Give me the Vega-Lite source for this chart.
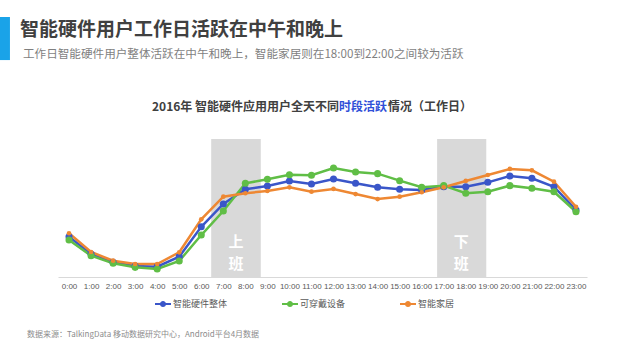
{
  "$schema": "https://vega.github.io/schema/vega-lite/v6.json",
  "width": 529,
  "height": 138,
  "autosize": {"type": "none"},
  "padding": {"left": 58, "top": 139, "right": 53, "bottom": 83},
  "background": "white",
  "config": {
    "view": {"stroke": null},
    "font": "Noto Sans CJK SC",
    "legend": {"orient": "none", "legendX": 97, "legendY": 157, "direction": "horizontal", "title": null,
      "symbolType": "M-1,-0.12L1,-0.12L1,0.12L-1,0.12ZM-0.38,0A0.38,0.38,0,1,1,0.38,0A0.38,0.38,0,1,1,-0.38,0Z",
      "symbolSize": 256, "symbolStrokeWidth": 0, "labelFontSize": 9, "labelColor": "#595959", "labelOffset": 2, "columnPadding": 54}
  },
  "datasets": {
    "series": [
      {"h":0,"s":"智能硬件整体","v":29.2},{"h":1,"s":"智能硬件整体","v":16.7},{"h":2,"s":"智能硬件整体","v":10.7},{"h":3,"s":"智能硬件整体","v":8.0},{"h":4,"s":"智能硬件整体","v":7.5},{"h":5,"s":"智能硬件整体","v":14.7},{"h":6,"s":"智能硬件整体","v":36.4},{"h":7,"s":"智能硬件整体","v":52.9},{"h":8,"s":"智能硬件整体","v":63.6},{"h":9,"s":"智能硬件整体","v":65.9},{"h":10,"s":"智能硬件整体","v":69.6},{"h":11,"s":"智能硬件整体","v":67.4},{"h":12,"s":"智能硬件整体","v":71.0},{"h":13,"s":"智能硬件整体","v":67.9},{"h":14,"s":"智能硬件整体","v":65.0},{"h":15,"s":"智能硬件整体","v":63.6},{"h":16,"s":"智能硬件整体","v":63.0},{"h":17,"s":"智能硬件整体","v":65.4},{"h":18,"s":"智能硬件整体","v":65.4},{"h":19,"s":"智能硬件整体","v":68.6},{"h":20,"s":"智能硬件整体","v":73.2},{"h":21,"s":"智能硬件整体","v":71.5},{"h":22,"s":"智能硬件整体","v":65.4},{"h":23,"s":"智能硬件整体","v":48.6},
      {"h":0,"s":"可穿戴设备","v":26.8},{"h":1,"s":"可穿戴设备","v":15.4},{"h":2,"s":"可穿戴设备","v":9.9},{"h":3,"s":"可穿戴设备","v":7.0},{"h":4,"s":"可穿戴设备","v":5.8},{"h":5,"s":"可穿戴设备","v":11.6},{"h":6,"s":"可穿戴设备","v":30.4},{"h":7,"s":"可穿戴设备","v":47.8},{"h":8,"s":"可穿戴设备","v":67.9},{"h":9,"s":"可穿戴设备","v":70.8},{"h":10,"s":"可穿戴设备","v":74.1},{"h":11,"s":"可穿戴设备","v":73.7},{"h":12,"s":"可穿戴设备","v":79.0},{"h":13,"s":"可穿戴设备","v":76.1},{"h":14,"s":"可穿戴设备","v":74.9},{"h":15,"s":"可穿戴设备","v":69.8},{"h":16,"s":"可穿戴设备","v":65.0},{"h":17,"s":"可穿戴设备","v":66.2},{"h":18,"s":"可穿戴设备","v":60.7},{"h":19,"s":"可穿戴设备","v":61.8},{"h":20,"s":"可穿戴设备","v":66.2},{"h":21,"s":"可穿戴设备","v":64.3},{"h":22,"s":"可穿戴设备","v":61.8},{"h":23,"s":"可穿戴设备","v":47.3},
      {"h":0,"s":"智能家居","v":31.7},{"h":1,"s":"智能家居","v":18.1},{"h":2,"s":"智能家居","v":11.8},{"h":3,"s":"智能家居","v":9.4},{"h":4,"s":"智能家居","v":9.4},{"h":5,"s":"智能家居","v":17.9},{"h":6,"s":"智能家居","v":41.8},{"h":7,"s":"智能家居","v":58.2},{"h":8,"s":"智能家居","v":60.7},{"h":9,"s":"智能家居","v":62.3},{"h":10,"s":"智能家居","v":65.0},{"h":11,"s":"智能家居","v":61.8},{"h":12,"s":"智能家居","v":63.8},{"h":13,"s":"智能家居","v":60.1},{"h":14,"s":"智能家居","v":56.5},{"h":15,"s":"智能家居","v":58.2},{"h":16,"s":"智能家居","v":61.4},{"h":17,"s":"智能家居","v":65.0},{"h":18,"s":"智能家居","v":69.6},{"h":19,"s":"智能家居","v":73.9},{"h":20,"s":"智能家居","v":78.3},{"h":21,"s":"智能家居","v":77.3},{"h":22,"s":"智能家居","v":69.1},{"h":23,"s":"智能家居","v":50.9}
    ],
    "bands": [
      {"start": 6.45, "end": 8.7, "mid": 7.58, "top": "上", "bottom": "班"},
      {"start": 16.7, "end": 18.93, "mid": 17.8, "top": "下", "bottom": "班"}
    ],
    "one": [{}]
  },
  "layer": [
    {
      "data": {"name": "bands"},
      "mark": {"type": "rect", "color": "#d9d9d9"},
      "encoding": {
        "x": {"field": "start", "type": "quantitative", "scale": {"domain": [-0.5, 23.5], "nice": false, "zero": false},
          "axis": {"values": [0,1,2,3,4,5,6,7,8,9,10,11,12,13,14,15,16,17,18,19,20,21,22,23], "tickCount": 24, "labelExpr": "datum.value + ':00'", "labelOverlap": false, "labelBound": false, "labelFlush": false, "title": null, "grid": false, "ticks": false, "domainColor": "#d9d9d9", "domainWidth": 1, "labelColor": "#595959", "labelFontSize": 8, "labelFont": "Liberation Sans", "labelPadding": 5}},
        "x2": {"field": "end"},
        "y": {"datum": 0, "type": "quantitative", "scale": {"domain": [0, 100], "nice": false, "zero": false}, "axis": null},
        "y2": {"datum": 100}
      }
    },
    {
      "data": {"name": "bands"},
      "mark": {"type": "text", "color": "white", "fontSize": 15, "fontWeight": "bold", "baseline": "middle"},
      "encoding": {
        "x": {"field": "mid", "type": "quantitative"},
        "y": {"datum": 25.3, "type": "quantitative"},
        "text": {"field": "top"}
      }
    },
    {
      "data": {"name": "bands"},
      "mark": {"type": "text", "color": "white", "fontSize": 15, "fontWeight": "bold", "baseline": "middle"},
      "encoding": {
        "x": {"field": "mid", "type": "quantitative"},
        "y": {"datum": 9.4, "type": "quantitative"},
        "text": {"field": "bottom"}
      }
    },
    {
      "data": {"name": "series"},
      "mark": {"type": "line", "strokeWidth": 2.5},
      "encoding": {
        "x": {"field": "h", "type": "quantitative"},
        "y": {"field": "v", "type": "quantitative"},
        "color": {"field": "s", "type": "nominal",
          "scale": {"domain": ["智能硬件整体", "可穿戴设备", "智能家居"], "range": ["#3a56c9", "#60be46", "#ee8833"]},
          "legend": {"encode": {"symbols": {"update": {"fill": {"scale": "color", "field": "value"}, "strokeWidth": {"value": 0}, "opacity": {"value": 1}, "size": {"value": 256}, "shape": {"value": "M-1,-0.12L1,-0.12L1,0.12L-1,0.12ZM-0.38,0A0.38,0.38,0,1,1,0.38,0A0.38,0.38,0,1,1,-0.38,0Z"}}}}}
        }
      }
    },
    {
      "data": {"name": "series"},
      "transform": [{"filter": "datum.s !== '智能家居'"}],
      "mark": {"type": "point", "filled": true, "opacity": 1, "size": 50},
      "encoding": {
        "x": {"field": "h", "type": "quantitative"},
        "y": {"field": "v", "type": "quantitative"},
        "color": {"field": "s", "type": "nominal",
          "legend": {"encode": {"symbols": {"update": {"fill": {"scale": "color", "field": "value"}, "strokeWidth": {"value": 0}, "opacity": {"value": 1}, "size": {"value": 256}, "shape": {"value": "M-1,-0.12L1,-0.12L1,0.12L-1,0.12ZM-0.38,0A0.38,0.38,0,1,1,0.38,0A0.38,0.38,0,1,1,-0.38,0Z"}}}}}}
      }
    },
    {
      "data": {"name": "series"},
      "transform": [{"filter": "datum.s === '智能家居'"}],
      "mark": {"type": "point", "filled": true, "opacity": 1, "size": 22},
      "encoding": {
        "x": {"field": "h", "type": "quantitative"},
        "y": {"field": "v", "type": "quantitative"},
        "color": {"field": "s", "type": "nominal",
          "legend": {"encode": {"symbols": {"update": {"fill": {"scale": "color", "field": "value"}, "strokeWidth": {"value": 0}, "opacity": {"value": 1}, "size": {"value": 256}, "shape": {"value": "M-1,-0.12L1,-0.12L1,0.12L-1,0.12ZM-0.38,0A0.38,0.38,0,1,1,0.38,0A0.38,0.38,0,1,1,-0.38,0Z"}}}}}}
      }
    },
    {
      "data": {"name": "one"},
      "mark": {"type": "text", "text": "智能硬件用户工作日活跃在中午和晚上", "align": "left", "baseline": "middle", "fontSize": 19, "fontWeight": "bold", "color": "#404040"},
      "encoding": {"x": {"datum": -2.224, "type": "quantitative"}, "y": {"datum": 179, "type": "quantitative"}}
    },
    {
      "data": {"name": "one"},
      "mark": {"type": "text", "text": "工作日智能硬件用户整体活跃在中午和晚上，智能家居则在18:00到22:00之间较为活跃", "align": "left", "baseline": "middle", "fontSize": 11.6, "color": "#7f7f7f"},
      "encoding": {"x": {"datum": -2.088, "type": "quantitative"}, "y": {"datum": 160.9, "type": "quantitative"}}
    },
    {
      "data": {"name": "one"},
      "mark": {"type": "text", "text": "2016年 智能硬件应用用户全天不同", "align": "right", "baseline": "middle", "fontSize": 12, "fontWeight": "bold", "color": "#404040"},
      "encoding": {"x": {"datum": 12.25, "type": "quantitative"}, "y": {"datum": 123.2, "type": "quantitative"}}
    },
    {
      "data": {"name": "one"},
      "mark": {"type": "text", "text": "时段活跃", "align": "left", "baseline": "middle", "fontSize": 12, "fontWeight": "bold", "color": "#2f4fd8"},
      "encoding": {"x": {"datum": 12.25, "type": "quantitative"}, "y": {"datum": 123.2, "type": "quantitative"}}
    },
    {
      "data": {"name": "one"},
      "mark": {"type": "text", "text": "情况（工作日）", "align": "left", "baseline": "middle", "fontSize": 12, "fontWeight": "bold", "color": "#404040"},
      "encoding": {"x": {"datum": 14.47, "type": "quantitative"}, "y": {"datum": 123.2, "type": "quantitative"}}
    },
    {
      "data": {"name": "one"},
      "mark": {"type": "text", "text": "数据来源：TalkingData 移动数据研究中心，Android平台4月数据", "align": "left", "baseline": "middle", "fontSize": 8, "color": "#8c8c8c"},
      "encoding": {"x": {"datum": -1.906, "type": "quantitative"}, "y": {"datum": -42, "type": "quantitative"}}
    },
    {
      "data": {"name": "one"},
      "mark": {"type": "rect", "color": "#1aa3e8"},
      "encoding": {
        "x": {"datum": -3.14, "type": "quantitative"}, "x2": {"datum": -2.68},
        "y": {"datum": 188.4, "type": "quantitative"}, "y2": {"datum": 157.2}
      }
    }
  ]
}
